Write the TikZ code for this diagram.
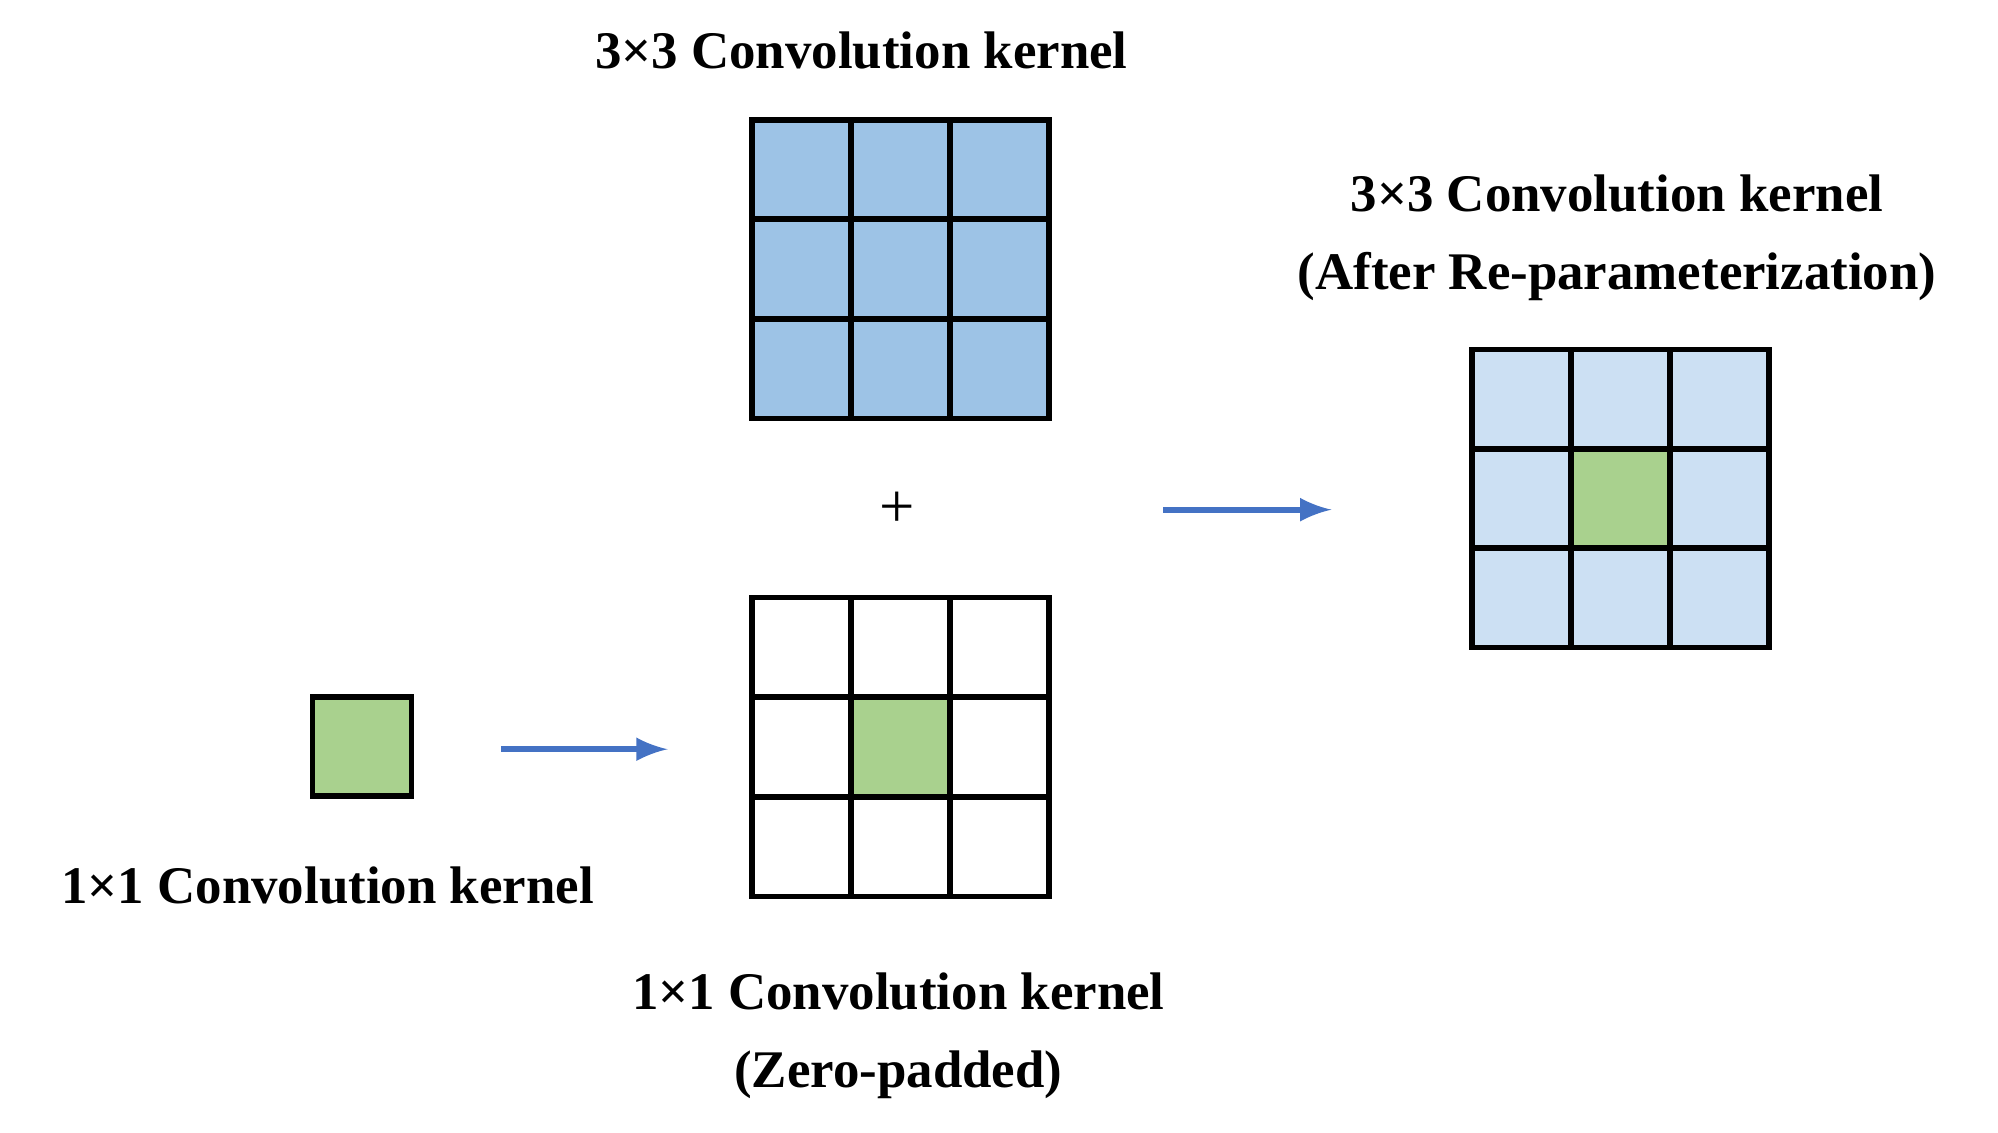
\documentclass[tikz,border=0pt]{standalone}
\usepackage{fontspec}
\setmainfont{Liberation Serif}
\definecolor{kblue}{HTML}{9DC3E6}
\definecolor{klight}{HTML}{CCE0F3}
\definecolor{kgreen}{HTML}{A9D18E}
\definecolor{karrow}{HTML}{4472C4}
\begin{document}
\begin{tikzpicture}[x=0.01cm,y=-0.01cm,
  cell/.style={draw=black,line width=1.2pt,minimum size=0.776cm,inner sep=0pt,anchor=north west},
  lbl/.style={font=\bfseries\fontsize{11.8pt}{14pt}\selectfont,align=center},
  arr/.style={draw=karrow,line width=1.4pt,-latex}]
\useasboundingbox (0,0) rectangle (1568,889);
\node[lbl] (t1) at (676,40) {3×3 Convolution kernel};
\foreach \i in {0,1,2}{\foreach \j in {0,1,2}{
  \node[cell,fill=kblue] (a\i\j) at (588+\i*77.7,92+\j*78.3) {};
  \node[cell,fill=white] (b\i\j) at (588+\i*77.7,467+\j*78.3) {};
  \node[cell,fill=klight] (c\i\j) at (1153+\i*77.7,272+\j*78.3) {};
}}
\node[cell,fill=kgreen] (b11g) at (588+77.7,467+78.3) {};
\node[cell,fill=kgreen] (c11g) at (1153+77.7,272+78.3) {};
\node[cell,fill=kgreen] (s) at (243,545) {};
\node[font=\fontsize{14pt}{16pt}\selectfont] (plus) at (704,400) {+};
\coordinate (p1) at (393,588); \coordinate (p2) at (524,588);
\coordinate (q1) at (913,400); \coordinate (q2) at (1045,400);
\draw[arr] (p1) -- (p2);
\draw[arr] (q1) -- (q2);
\node[lbl] (t2) at (257,695) {1×1 Convolution kernel};
\node[lbl] (t3) at (705,813) {1×1 Convolution kernel\\[0.12cm](Zero-padded)};
\node[lbl] (t4) at (1269,187) {3×3 Convolution kernel\\[0.12cm](After Re-parameterization)};
\end{tikzpicture}
\end{document}
